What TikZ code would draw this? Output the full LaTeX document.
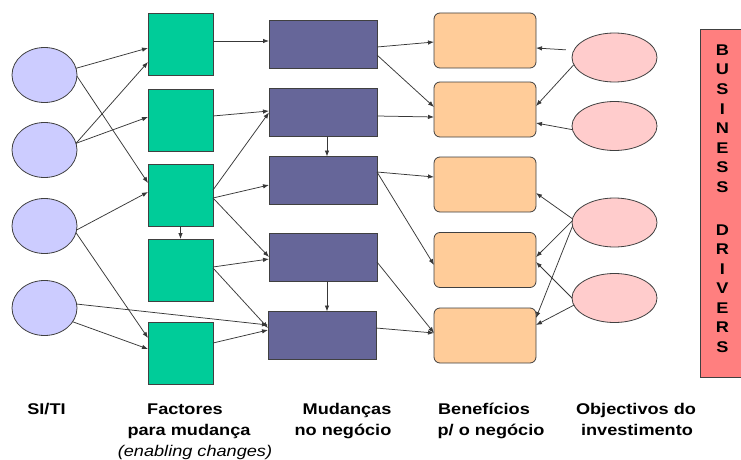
\documentclass[tikz,border=0pt]{standalone}
\usepackage{fontspec}
\setmainfont[FakeStretch=1.17]{Liberation Sans}
\usetikzlibrary{arrows.meta,shapes.geometric}

\definecolor{siti}{HTML}{CCCCFF}
\definecolor{factor}{HTML}{00CC99}
\definecolor{mudanca}{HTML}{666699}
\definecolor{beneficio}{HTML}{FFCC99}
\definecolor{objectivo}{HTML}{FFCCCC}
\definecolor{drivers}{HTML}{FF7F7F}
\definecolor{bordergray}{HTML}{404040}
\definecolor{linkgray}{HTML}{383838}

\begin{document}
\begin{tikzpicture}[x=1pt,y=-1pt,
  every node/.style={inner sep=0pt, outer sep=0pt},
  shapeline/.style={draw=bordergray, line width=0.8pt},
  sitinode/.style={shapeline, ellipse, fill=siti, minimum width=65pt, minimum height=55pt},
  factnode/.style={shapeline, rectangle, fill=factor, minimum width=65pt, minimum height=62pt},
  mudnode/.style={shapeline, rectangle, fill=mudanca, minimum width=108pt, minimum height=48pt},
  bennode/.style={shapeline, rectangle, rounded corners=6pt, fill=beneficio, minimum width=102pt, minimum height=55pt},
  objnode/.style={shapeline, ellipse, fill=objectivo, minimum width=85pt, minimum height=49pt},
  link/.style={draw=linkgray, line width=0.75pt, -{Latex[length=6pt,width=4.5pt]}},
  caption/.style={font=\fontsize{15.5}{21}\selectfont\bfseries, anchor=base},
  subcaption/.style={font=\fontsize{15.5}{21}\selectfont\itshape, anchor=base},
  letter/.style={font=\fontsize{15.5}{19}\selectfont\bfseries, anchor=center},
]
\fill[white, use as bounding box] (0,0) rectangle (741,460);

% SI/TI
\node[sitinode] (e1) at (44.5,75) {};
\node[sitinode] (e2) at (44.5,150) {};
\node[sitinode] (e3) at (44.5,226) {};
\node[sitinode] (e4) at (44.5,308) {};

% enabling changes
\node[factnode] (g1) at (180.5,44) {};
\node[factnode] (g2) at (180.5,120) {};
\node[factnode] (g3) at (180.5,195) {};
\node[factnode] (g4) at (180.5,270) {};
\node[factnode] (g5) at (180.5,353) {};

% business changes
\node[mudnode] (p1) at (323,44) {};
\node[mudnode] (p2) at (323,112.5) {};
\node[mudnode] (p3) at (323,180.5) {};
\node[mudnode] (p4) at (323,257) {};
\node[mudnode] (p5) at (322,335.5) {};

% benefits
\node[bennode] (b1) at (485,40.5) {};
\node[bennode] (b2) at (485,109.5) {};
\node[bennode] (b3) at (485,184.5) {};
\node[bennode] (b4) at (485,260) {};
\node[bennode] (b5) at (485,335.5) {};

% investment objectives
\node[objnode] (o1) at (614.5,57.5) {};
\node[objnode] (o2) at (614.5,126) {};
\node[objnode] (o3) at (614.5,222.5) {};
\node[objnode] (o4) at (614.5,298) {};

% business drivers bar
\node[shapeline, fill=drivers, minimum width=45pt, minimum height=348pt, anchor=north west] (drv) at (700,29) {};
\foreach \ch [count=\i from 0] in {B,U,S,I,N,E,S,S}
  \node[letter] (bus\i) at (722.5,{50+19.6*\i}) {\ch};
\foreach \ch [count=\i from 0] in {D,R,I,V,E,R,S}
  \node[letter] (drv\i) at (722.5,{230+19.5*\i}) {\ch};

% SI/TI -> enabling changes
\draw[link] (e1.12)  -- ([yshift=-4pt]g1.west);
\draw[link] (e1.-2)  -- ([yshift=12pt]g3.west);
\draw[link] (e2.12)  -- ([yshift=-18pt]g1.west);
\draw[link] (e2.12)  -- ([yshift=3pt]g2.west);
\draw[link] (e3.-7)  -- ([yshift=3pt]g3.west);
\draw[link] (e3.-12) -- ([yshift=15pt]g5.west);
\draw[link] (e4.7)   -- ([yshift=10.5pt]p5.west);
\draw[link] (e4.-26) -- ([yshift=4pt]g5.west);

% enabling changes -> business changes
\draw[link] ([yshift=3pt]g1.east)  -- ([yshift=3pt]p1.west);
\draw[link] ([yshift=4pt]g2.east)  -- ([yshift=1.5pt]p2.west);
\draw[link] ([yshift=5pt]g3.east)  -- (p2.west);
\draw[link] ([yshift=-3pt]g3.east) -- ([yshift=-4.5pt]p3.west);
\draw[link] ([yshift=-3pt]g3.east) -- (p4.west);
\draw[link] (g3.south) -- (g4.north);
\draw[link] ([yshift=3pt]g4.east)  -- ([yshift=-2pt]p4.west);
\draw[link] ([yshift=2pt]g4.east)  -- ([yshift=7.5pt]p5.west);
\draw[link] ([yshift=10pt]g5.east) -- ([yshift=5.5pt]p5.west);
\draw[link] ([xshift=4pt]p2.south) -- ([xshift=4pt]p3.north);
\draw[link] ([xshift=4pt]p4.south) -- ([xshift=5pt]p5.north);

% business changes -> benefits
\draw[link] ([yshift=-3pt]p1.east)   -- ([yshift=-1.5pt]b1.west);
\draw[link] ([yshift=-11pt]p1.east)  -- ([yshift=2.5pt]b2.west);
\draw[link] ([yshift=-3.5pt]p2.east) -- ([yshift=-7.5pt]b2.west);
\draw[link] ([yshift=8.5pt]p3.east)  -- ([yshift=7.5pt]b3.west);
\draw[link] ([yshift=8.5pt]p3.east)  -- ([yshift=-5pt]b4.west);
\draw[link] ([yshift=-5pt]p4.east)   -- ([yshift=2.5pt]b5.west);
\draw[link] ([yshift=7.5pt]p5.east)  -- ([yshift=2.5pt]b5.west);

% investment objectives -> benefits
\draw[link, shorten <=8pt] (o1.170) -- ([yshift=-7.5pt]b1.east);
\draw[link] (o1.190) -- ([yshift=3.5pt]b2.east);
\draw[link] (o2.185) -- ([yshift=-13.5pt]b2.east);
\draw[link] (o3.175) -- ([yshift=-8.5pt]b3.east);
\draw[link] (o3.178) -- ([yshift=3pt]b4.east);
\draw[link] (o3.185) -- ([yshift=17.5pt]b5.east);
\draw[link] (o4.west) -- ([yshift=-2pt]b4.east);
\draw[link] (o4.190) -- ([yshift=10.5pt]b5.east);

% column captions
\node[caption] (capsiti) at (46.5,414) {SI/TI};
\node[caption] (capfa) at (185,414) {Factores};
\node[caption] (capfb) at (189,435) {para mudança};
\node[subcaption] (capfc) at (195,456) {(enabling changes)};
\node[caption] (capma) at (347,414) {Mudanças};
\node[caption] (capmb) at (343,435) {no negócio};
\node[caption] (capba) at (484,414) {Benefícios};
\node[caption] (capbb) at (491,435) {p/ o negócio};
\node[caption] (capoa) at (636,414) {Objectivos do};
\node[caption] (capob) at (637,435) {investimento};
\end{tikzpicture}
\end{document}
